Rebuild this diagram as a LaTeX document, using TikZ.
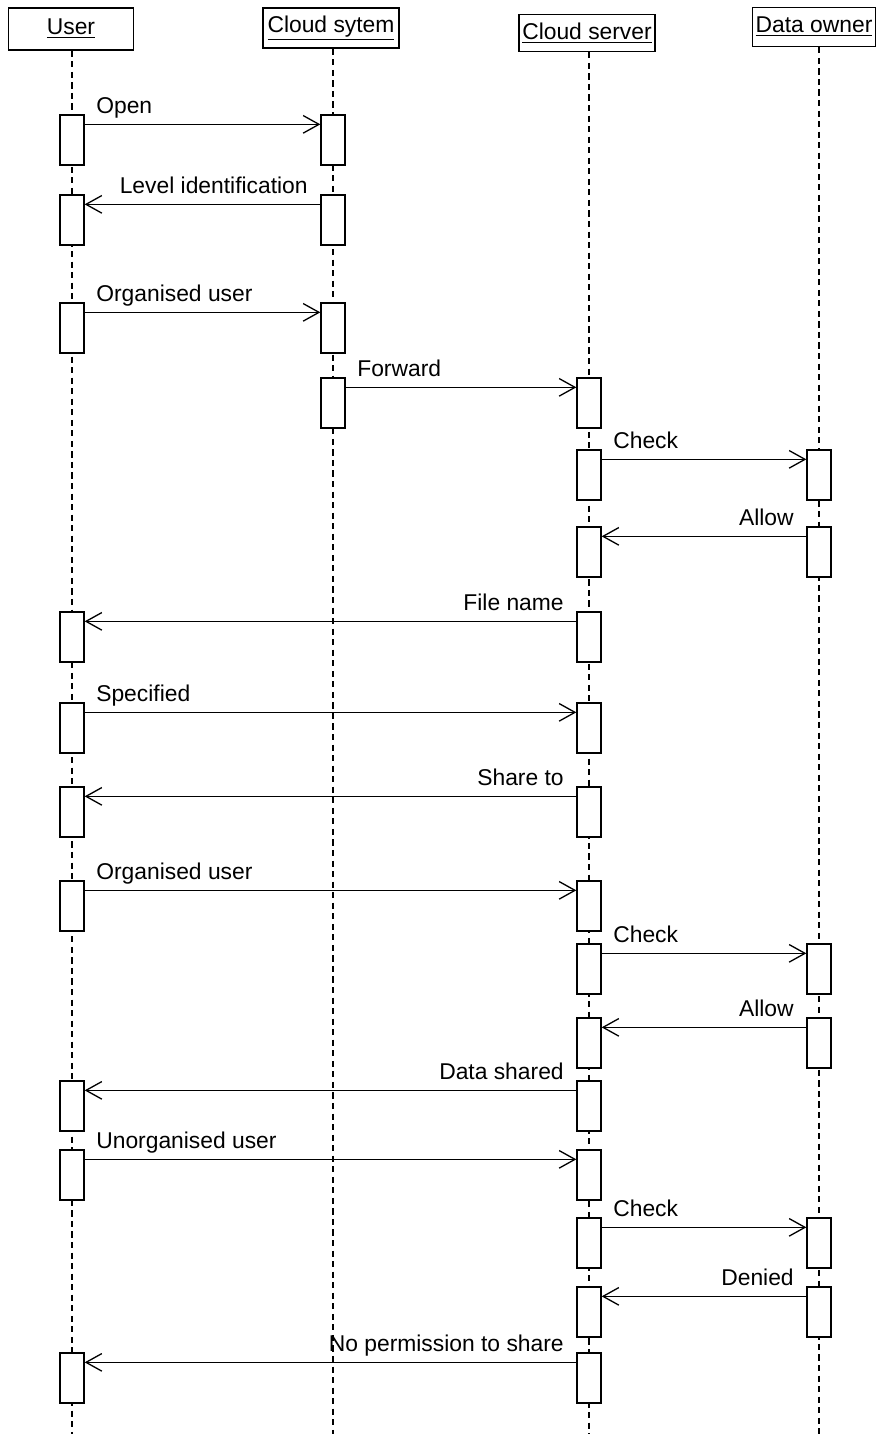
\documentclass[tikz,border=0pt]{standalone}
\usepackage{fontspec}
\setmainfont{Liberation Sans}
\usetikzlibrary{arrows.meta}

\begin{document}
\begin{tikzpicture}[x = 0.02cm, y = -0.02cm]
\tikzstyle{Head}=[draw, line width = 0.9pt, inner sep = 0pt,
font = \fontsize{13}{15}\selectfont]
\tikzstyle{Act}=[draw, line width = 0.75pt, fill = white, minimum width = 0.48cm,
minimum height = 1.0cm, inner sep = 0pt]
\tikzstyle{Life}=[dash pattern = on 3.5pt off 2.5pt, line width = 0.7pt]
\tikzstyle{Msg}=[line width = 0.75pt, -{Straight Barb[length = 9pt, width = 10pt]}]
\tikzstyle{LblR}=[inner sep = 0pt, pos = 0, anchor = base west, xshift = 0.22cm,
yshift = 0.22cm, font = \fontsize{13}{15}\selectfont]
\tikzstyle{LblL}=[inner sep = 0pt, pos = 0, anchor = base east, xshift = -0.24cm,
yshift = 0.22cm, font = \fontsize{13}{15}\selectfont]
\useasboundingbox (0,0) rectangle (876,1434);
% heads
\node[Head, minimum width = 2.5cm, minimum height = 0.84cm] (user) at (71,29) {\underline{User}};
\node[Head, minimum width = 2.72cm, minimum height = 0.8cm] (csys) at (331,28) {\underline{Cloud sytem}};
\node[Head, minimum width = 2.72cm, minimum height = 0.74cm] (csrv) at (587,33) {\underline{Cloud server}};
\node[Head, minimum width = 2.46cm, minimum height = 0.78cm] (down) at (814,27) {\underline{Data owner}};
\coordinate (userEnd) at (72,1434);
\coordinate (csysEnd) at (333,1434);
\coordinate (csrvEnd) at (589,1434);
\coordinate (downEnd) at (819,1434);
\draw[Life] (user.south -| userEnd) -- (userEnd);
\draw[Life] (csys.south -| csysEnd) -- (csysEnd);
\draw[Life] (csrv.south -| csrvEnd) -- (csrvEnd);
\draw[Life] (down.south -| downEnd) -- (downEnd);
% activations
\node[Act] (u1) at (72,140) {};
\node[Act] (s1) at (333,140) {};
\node[Act] (u2) at (72,220) {};
\node[Act] (s2) at (333,220) {};
\node[Act] (u3) at (72,328) {};
\node[Act] (s3) at (333,328) {};
\node[Act] (s4) at (333,403) {};
\node[Act] (c4) at (589,403) {};
\node[Act] (c5) at (589,475) {};
\node[Act] (d5) at (819,475) {};
\node[Act] (c6) at (589,552) {};
\node[Act] (d6) at (819,552) {};
\node[Act] (c7) at (589,637) {};
\node[Act] (u7) at (72,637) {};
\node[Act] (u8) at (72,728) {};
\node[Act] (c8) at (589,728) {};
\node[Act] (c9) at (589,812) {};
\node[Act] (u9) at (72,812) {};
\node[Act] (u10) at (72,906) {};
\node[Act] (c10) at (589,906) {};
\node[Act] (c11) at (589,969) {};
\node[Act] (d11) at (819,969) {};
\node[Act] (d12) at (819,1043) {};
\node[Act] (c12) at (589,1043) {};
\node[Act] (c13) at (589,1106) {};
\node[Act] (u13) at (72,1106) {};
\node[Act] (u14) at (72,1175) {};
\node[Act] (c14) at (589,1175) {};
\node[Act] (c15) at (589,1243) {};
\node[Act] (d15) at (819,1243) {};
\node[Act] (d16) at (819,1312) {};
\node[Act] (c16) at (589,1312) {};
\node[Act] (c17) at (589,1378) {};
\node[Act] (u17) at (72,1378) {};
% messages
\draw[Msg] ([yshift = -0.2cm]u1.north east) -- node[LblR]{Open} ([yshift = -0.2cm]s1.north west);
\draw[Msg] ([yshift = -0.2cm]s2.north west) -- node[LblL]{Level identification} ([yshift = -0.2cm]u2.north east);
\draw[Msg] ([yshift = -0.2cm]u3.north east) -- node[LblR]{Organised user} ([yshift = -0.2cm]s3.north west);
\draw[Msg] ([yshift = -0.2cm]s4.north east) -- node[LblR]{Forward} ([yshift = -0.2cm]c4.north west);
\draw[Msg] ([yshift = -0.2cm]c5.north east) -- node[LblR]{Check} ([yshift = -0.2cm]d5.north west);
\draw[Msg] ([yshift = -0.2cm]d6.north west) -- node[LblL]{Allow} ([yshift = -0.2cm]c6.north east);
\draw[Msg] ([yshift = -0.2cm]c7.north west) -- node[LblL]{File name} ([yshift = -0.2cm]u7.north east);
\draw[Msg] ([yshift = -0.2cm]u8.north east) -- node[LblR]{Specified} ([yshift = -0.2cm]c8.north west);
\draw[Msg] ([yshift = -0.2cm]c9.north west) -- node[LblL]{Share to} ([yshift = -0.2cm]u9.north east);
\draw[Msg] ([yshift = -0.2cm]u10.north east) -- node[LblR]{Organised user} ([yshift = -0.2cm]c10.north west);
\draw[Msg] ([yshift = -0.2cm]c11.north east) -- node[LblR]{Check} ([yshift = -0.2cm]d11.north west);
\draw[Msg] ([yshift = -0.2cm]d12.north west) -- node[LblL]{Allow} ([yshift = -0.2cm]c12.north east);
\draw[Msg] ([yshift = -0.2cm]c13.north west) -- node[LblL]{Data shared} ([yshift = -0.2cm]u13.north east);
\draw[Msg] ([yshift = -0.2cm]u14.north east) -- node[LblR]{Unorganised user} ([yshift = -0.2cm]c14.north west);
\draw[Msg] ([yshift = -0.2cm]c15.north east) -- node[LblR]{Check} ([yshift = -0.2cm]d15.north west);
\draw[Msg] ([yshift = -0.2cm]d16.north west) -- node[LblL]{Denied} ([yshift = -0.2cm]c16.north east);
\draw[Msg] ([yshift = -0.2cm]c17.north west) -- node[LblL]{No permission to share} ([yshift = -0.2cm]u17.north east);
\end{tikzpicture}
\end{document}
